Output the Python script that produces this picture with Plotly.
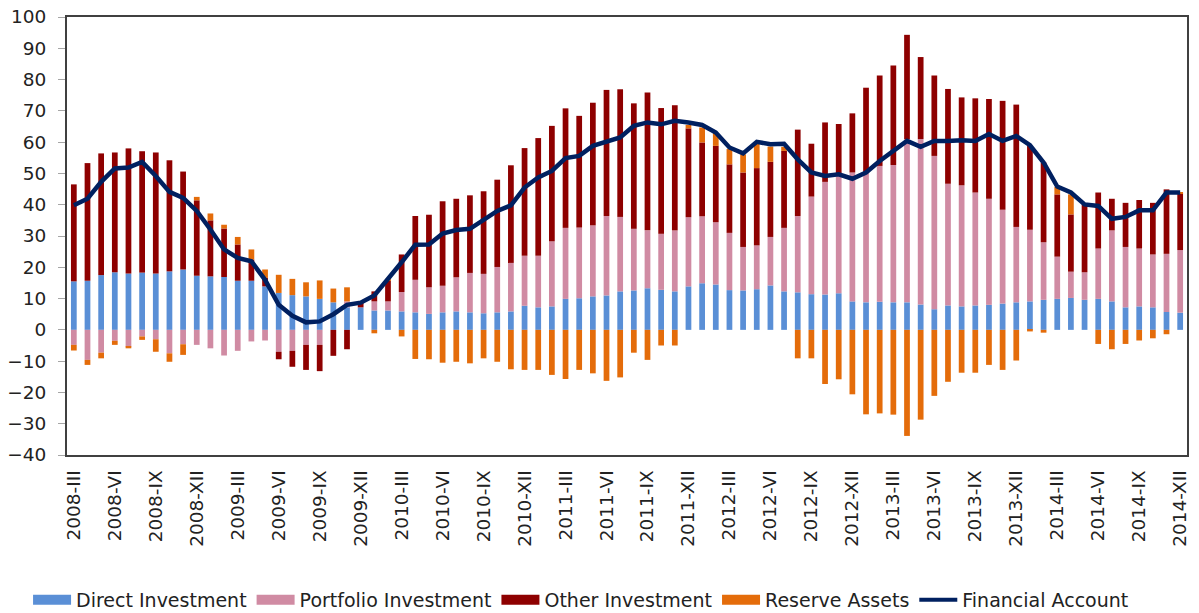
import plotly.graph_objects as go

ROMAN = ["I", "II", "III", "IV", "V", "VI", "VII", "VIII", "IX", "X", "XI", "XII"]
YEARS = [2008, 2009, 2010, 2011, 2012, 2013, 2014]
months = [f"{y}-{m}" for y in YEARS for m in ROMAN][2:]  # 2008-III .. 2014-XII

direct = [15.5, 15.7, 17.5, 18.4, 18.0, 18.3, 18.0, 18.7, 19.3, 17.3,
          17.1, 16.9, 15.7, 15.7, 13.9, 11.8, 11.1, 10.7, 9.9, 8.8, 7.2, 7.2,
          6.2, 6.2, 5.9, 5.6, 5.1, 5.6, 5.9, 5.6, 5.3, 5.6, 5.9, 7.7,
          7.2, 7.5, 9.9, 10.1, 10.7, 11.0, 12.3, 12.6, 13.3, 12.8, 12.3, 13.9,
          14.9, 14.5, 12.7, 12.6, 13.0, 14.2, 12.3, 12.0, 11.4, 11.3, 11.7, 9.1,
          8.8, 9.0, 8.8, 8.8, 8.1, 6.6, 7.8, 7.5, 7.8, 8.0, 8.4, 8.8,
          9.1, 9.6, 9.9, 10.2, 9.6, 9.9, 9.1, 7.2, 7.5, 7.2, 5.7, 5.5]

portfolio = [-4.8, -9.6, -7.3, -3.5, -5.3, -2.1, -3.0, -7.5, -4.6, -4.8,
             -5.9, -8.2, -6.7, -3.7, -3.4, -7.0, -6.7, -4.8, -4.8, 0.0, 1.9, 0.0,
             2.9, 2.9, 6.2, 10.4, 8.5, 8.5, 10.9, 12.6, 12.6, 14.5, 15.5, 16.0,
             16.5, 20.8, 22.7, 22.6, 22.7, 25.4, 23.8, 19.7, 18.5, 17.9, 19.5, 22.1,
             21.4, 19.9, 18.3, 13.9, 14.0, 15.5, 20.3, 24.4, 31.2, 36.0, 37.5, 41.2,
             41.5, 43.4, 43.9, 52.2, 52.9, 49.0, 38.9, 38.7, 36.1, 33.9, 30.0, 24.1,
             22.9, 18.4, 13.5, 8.4, 8.8, 16.1, 22.7, 19.3, 18.5, 16.9, 18.6, 20.0]

other = [31.0, 37.6, 38.9, 38.3, 40.0, 38.8, 38.7, 35.5, 31.3, 24.1,
         17.9, 15.5, 11.6, 6.8, 2.7, -2.4, -5.1, -8.0, -8.4, -8.3, -6.2, 1.4,
         3.2, 6.6, 12.0, 20.4, 23.2, 27.0, 25.1, 24.8, 26.4, 27.9, 31.2, 34.4,
         37.6, 36.9, 38.2, 35.7, 39.2, 40.3, 40.8, 40.1, 44.1, 40.2, 40.0, 28.4,
         23.6, 24.4, 21.9, 23.8, 24.7, 24.0, 24.6, 27.6, 16.9, 19.0, 16.6, 18.9,
         27.1, 28.9, 31.8, 33.3, 26.2, 25.7, 30.3, 28.1, 30.1, 31.9, 34.8, 39.1,
         26.8, 25.5, 19.9, 18.3, 21.7, 17.9, 10.1, 14.1, 15.5, 16.5, 20.6, 18.2]

reserve = [-1.8, -1.6, -1.8, -1.3, -0.6, -1.1, -4.0, -2.7, -3.4, 1.1,
           2.2, 1.2, 2.4, 3.2, 2.7, 5.8, 5.2, 4.5, 5.9, 4.4, 4.5, 0.0,
           -1.1, 0.6, -2.1, -9.3, -9.4, -10.5, -10.2, -10.7, -9.1, -10.2, -12.6, -12.8,
           -12.8, -14.4, -15.7, -12.8, -13.9, -16.3, -15.2, -7.3, -9.6, -5.0, -5.0, 1.1,
           4.8, 4.1, 4.9, 5.8, 7.7, 4.9, 1.3, -9.1, -9.1, -17.3, -15.8, -20.6,
           -27.0, -26.7, -27.1, -33.9, -28.7, -21.1, -16.6, -13.7, -13.7, -11.2, -12.8, -9.8,
           -0.5, -0.9, 2.4, 6.4, 0.0, -4.5, -6.2, -4.5, -3.4, -2.7, -1.4, 0.2]

financial = [39.8, 41.9, 47.3, 51.6, 51.9, 53.7, 49.2, 44.1, 42.2, 38.0,
             32.1, 25.7, 23.0, 21.9, 16.0, 8.0, 4.5, 2.4, 2.7, 5.0, 8.0, 8.7,
             11.0, 16.2, 21.6, 27.2, 27.3, 30.8, 31.9, 32.3, 35.3, 38.0, 39.8, 45.5,
             48.7, 50.8, 54.9, 55.6, 58.8, 60.1, 61.5, 65.2, 66.3, 65.7, 66.8, 66.3,
             65.5, 63.1, 58.3, 56.4, 60.1, 59.3, 59.5, 54.5, 50.3, 49.2, 49.7, 48.3,
             50.3, 54.0, 57.2, 60.4, 58.5, 60.4, 60.4, 60.6, 60.4, 62.6, 60.4, 62.0,
             59.0, 53.5, 45.8, 43.9, 40.1, 39.6, 35.5, 36.1, 38.2, 38.2, 43.9, 43.9]

tick_labels = months[::3]
y_ticks = list(range(-40, 101, 10))

bar_series = [
    ("Direct Investment", direct, "#5A8FD6"),
    ("Portfolio Investment", portfolio, "#D08BA3"),
    ("Other Investment", other, "#8E0000"),
    ("Reserve Assets", reserve, "#E46C0A"),
]
line_color = "#002060"
FONT = "DejaVu Sans"

fig = go.Figure()
for name, vals, col in bar_series:
    fig.add_trace(go.Bar(x=months, y=vals, name=name, marker=dict(color=col, line=dict(width=0)),
                         showlegend=False, legendgroup=name))
fig.add_trace(go.Scatter(x=months, y=financial, name="Financial Account", mode="lines",
                         line=dict(color=line_color, width=4.5), showlegend=False,
                         legendgroup="Financial Account"))

# legend swatches
for name, vals, col in bar_series:
    fig.add_trace(go.Scatter(x=[None], y=[None], mode="lines", name=name,
                             line=dict(color=col, width=10), legendgroup=name))
fig.add_trace(go.Scatter(x=[None], y=[None], mode="lines", name="Financial Account",
                         line=dict(color=line_color, width=4), legendgroup="Financial Account"))

n = len(months)
fig.update_layout(
    width=1199, height=613,
    margin=dict(l=67, r=12, t=17, b=158, autoexpand=False),
    paper_bgcolor="white", plot_bgcolor="white",
    barmode="relative", bargap=0.58,
    font=dict(family=FONT, color="#222222", size=18),
    xaxis=dict(type="category", categoryorder="array", categoryarray=months,
               range=[-0.5, n - 0.5], tickvals=tick_labels, ticktext=tick_labels,
               tickangle=-90, showline=True, linecolor="#404040", linewidth=2,
               mirror=True, ticks="", showgrid=False, zeroline=False,
               ticklabelstandoff=6,
               tickfont=dict(size=18.5, family=FONT, color="#222222")),
    xaxis2=dict(overlaying="x", anchor="free", position=40 / 140, type="linear",
                range=[-0.5, n - 0.5], showline=True, linecolor="#A6A6A6", linewidth=1.5,
                ticks="outside", ticklen=6, tickcolor="#A6A6A6", tickwidth=1,
                tickvals=[i + 0.5 for i in range(n - 1)], showticklabels=False,
                showgrid=False, zeroline=False),
    yaxis=dict(range=[-40, 100], tickvals=y_ticks, showline=True, linecolor="#404040",
               linewidth=2, mirror=True, ticks="outside", ticklen=7, tickcolor="#A6A6A6",
               tickwidth=1, showgrid=False, zeroline=False, ticklabelstandoff=8,
               tickfont=dict(size=18.5, family=FONT, color="#222222")),
    legend=dict(orientation="h", xref="container", yref="container", x=0.0234, y=0.0212,
                xanchor="left", yanchor="middle", itemwidth=38,
                font=dict(size=19, family=FONT, color="#222222"),
                traceorder="normal", tracegroupgap=0, bgcolor="rgba(0,0,0,0)"),
)

fig.write_html("out.html", config={"displayModeBar": False},
               post_script="document.body.style.margin='0';")
